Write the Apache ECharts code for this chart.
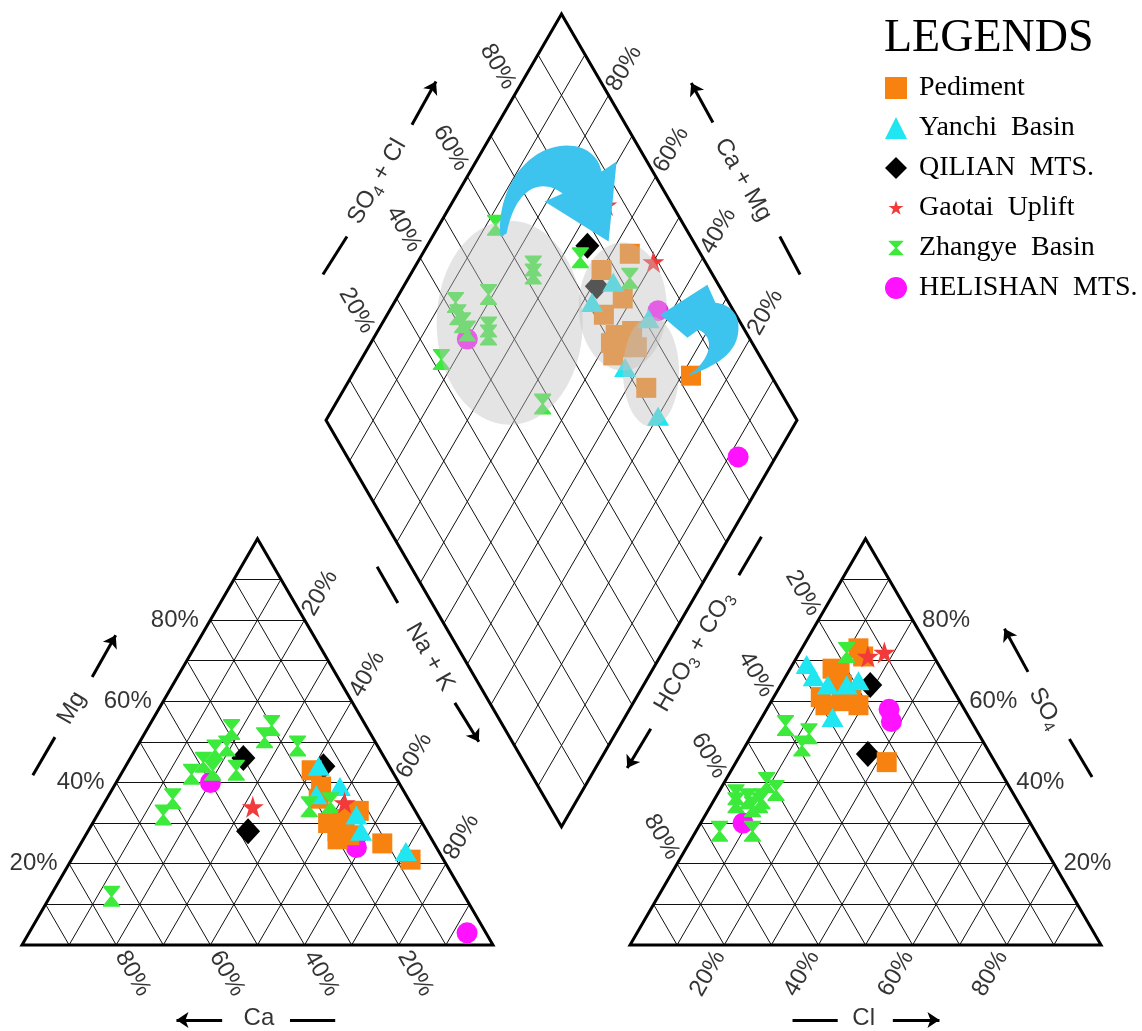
<!DOCTYPE html>
<html>
<head>
<meta charset="utf-8">
<script src="https://cdn.jsdelivr.net/npm/echarts@6/dist/echarts.min.js"></script>
<style>
  html, body { margin: 0; padding: 0; background: #ffffff; }
  #chart { width: 1142px; height: 1031px; }
</style>
</head>
<body>
<div id="chart"></div>
<script>
// ---- Sample compositions (meq %) ----
// Cation triangle: [Ca, Mg, Na+K]
const cationsPediment = [[17,43,40],[17,39,44],[19,36,45],[13,33,54],[16,31,53],[19,28,53],[20,26,54],[17,27,56],[11,25,64],[7,21,72],[12,33,55],[20,30,50]];
const cationsYanchi   = [[15,44,41],[13,39,48],[19,37,44],[13,32,55],[14,28,58],[7,23,70]];
const cationsQilian   = [[30,46,24],[14,44,42],[38,28,34]];
const cationsGaotai   = [[34,34,32],[14,35,51]];
const cationsZhangye  = [[20,54,26],[23,51,26],[17,49,34],[29,53,18],[32,49,19],[35,48,17],[39,45,16],[43,42,15],[38,43,19],[33,43,24],[50,36,14],[54,32,14],[22,34,44],[17,35,48],[75,12,13]];
const cationsHelishan = [[40,40,20],[17,24,59],[4,3,93]];

// Anion triangle: [HCO3+CO3, SO4, Cl]
const anionsPediment = [[15,73,12],[15,71,14],[22,67,11],[23,64,13],[29,61,10],[29,59,12],[25,60,15],[22,59,19],[22,62,16],[23,45,32],[23,68,9]];
const anionsYanchi   = [[28,69,3],[28,66,6],[26,64,10],[22,64,14],[19,65,16],[29,56,15]];
const anionsQilian   = [[17,64,19],[26,47,27]];
const anionsGaotai   = [[14,71,15],[10,72,18]];
const anionsZhangye  = [[18,72,10],[40,54,6],[36,52,12],[39,49,12],[51,40,9],[50,38,12],[59,37,4],[57,36,7],[55,35,10],[60,35,5],[57,34,9],[60,28,12],[67,28,5],[54,36,10]];
const anionsHelishan = [[16,58,26],[17,55,28],[61,30,9]];

// Central diamond: [Ca+Mg, SO4+Cl]
const diamondPediment = [[56,85],[60,77],[52,78],[54,72],[49,72],[46,72],[43,75],[47,69],[36,72],[28,83],[49,70],[46,76]];
const diamondYanchi   = [[56,78],[58,71],[44,81],[43,70],[30,71]];
const diamondQilian   = [[66,77],[59,74]];
const diamondGaotai   = [[67,86],[50,89]];
const diamondZhangye  = [[88,60],[66,74],[53,82],[74,62],[75,63],[81,50],[87,42],[85,41],[83,41],[81,41],[76,45],[77,46],[83,32],[56,48]];
const diamondHelishan = [[80,40],[43,84],[8,83]];

// Tick values and their labels
const tickValues = [20, 40, 60, 80];
const tickLabels = ['20%', '40%', '60%', '80%'];

// ---- Piper geometry (side of each triangle = 100 units) ----
const S = Math.sqrt(3) / 2;
const GAP = 29.1;                 // spacing between the two triangles
const RX0 = 100 + GAP;            // left corner of anion triangle
const BX = 100 + GAP / 2, BY = GAP * S;   // lower corner of diamond
const PXU = 4.7;                  // approx. pixels per unit
const UR = [0.5, S], UL = [-0.5, S], DR = [0.5, -S], DL = [-0.5, -S];

const cat = (ca, mg, nk) => [nk + mg / 2, mg * S];
const an  = (hc, so, cl) => [RX0 + cl + so / 2, so * S];
const dia = (cm, sc) => [BX + (sc - cm) / 2, BY + (sc + cm) * S];
const along = (p, dir, d) => [p[0] + dir[0] * d / PXU, p[1] + dir[1] * d / PXU];

// ---- Marker groups ----
const STAR = 'path://M50,0 L61.2,34.5 L97.6,34.5 L68.2,55.9 L79.4,90.5 L50,69.1 L20.6,90.5 L31.8,55.9 L2.4,34.5 L38.8,34.5 Z';
const HOURGLASS = 'path://M0,0 L100,0 L100,6 L56,50 L100,94 L100,100 L0,100 L0,94 L44,50 L0,6 Z';
const STAR_ICON = 'path://M-20,-20 M120,115 M50,0 L61.2,34.5 L97.6,34.5 L68.2,55.9 L79.4,90.5 L50,69.1 L20.6,90.5 L31.8,55.9 L2.4,34.5 L38.8,34.5 Z';
const HOURGLASS_ICON = 'path://M-25,-15 M125,115 M0,0 L100,0 L100,6 L56,50 L100,94 L100,100 L0,100 L0,94 L44,50 L0,6 Z';

const groups = [
  { name: 'Pediment',       color: '#F7820F', symbol: 'rect',     size: 20,       icon: 'rect',         cat: cationsPediment, an: anionsPediment, dia: diamondPediment },
  { name: 'Yanchi  Basin',  color: '#1FE6F0', symbol: 'triangle', size: [22, 19], icon: 'triangle',     cat: cationsYanchi,   an: anionsYanchi,   dia: diamondYanchi },
  { name: 'QILIAN  MTS.',   color: '#000000', symbol: 'diamond',  size: [24, 26], icon: 'diamond',      cat: cationsQilian,   an: anionsQilian,   dia: diamondQilian },
  { name: 'Gaotai  Uplift', color: '#F23A3A', symbol: STAR,       size: 22,       icon: STAR_ICON,      cat: cationsGaotai,   an: anionsGaotai,   dia: diamondGaotai },
  { name: 'Zhangye  Basin', color: '#3CEA3C', symbol: HOURGLASS,  size: [17, 21], icon: HOURGLASS_ICON, cat: cationsZhangye,  an: anionsZhangye,  dia: diamondZhangye },
  { name: 'HELISHAN  MTS.', color: '#FF12FF', symbol: 'circle',   size: 21,       icon: 'circle',       cat: cationsHelishan, an: anionsHelishan, dia: diamondHelishan }
];
// drawing order (later = on top)
const drawOrder = ['HELISHAN  MTS.', 'QILIAN  MTS.', 'Pediment', 'Yanchi  Basin', 'Zhangye  Basin', 'Gaotai  Uplift'];

// ---- Grid lines and outlines ----
const gridSegs = [];
for (let k = 10; k < 100; k += 10) {
  gridSegs.push([cat(100 - k, k, 0), cat(0, k, 100 - k)]);
  gridSegs.push([cat(100 - k, 0, k), cat(0, 100 - k, k)]);
  gridSegs.push([cat(k, 0, 100 - k), cat(k, 100 - k, 0)]);
  gridSegs.push([an(100 - k, k, 0), an(0, k, 100 - k)]);
  gridSegs.push([an(100 - k, 0, k), an(0, 100 - k, k)]);
  gridSegs.push([an(k, 0, 100 - k), an(k, 100 - k, 0)]);
  gridSegs.push([dia(k, 0), dia(k, 100)]);
  gridSegs.push([dia(0, k), dia(100, k)]);
}
const outlines = [
  [cat(100, 0, 0), cat(0, 0, 100), cat(0, 100, 0), cat(100, 0, 0), cat(0, 0, 100)],
  [an(100, 0, 0), an(0, 0, 100), an(0, 100, 0), an(100, 0, 0), an(0, 0, 100)],
  [dia(0, 0), dia(100, 0), dia(100, 100), dia(0, 100), dia(0, 0), dia(100, 0)]
];

// ---- Tick labels ----
function lab(p, text, rotate, position, distance) {
  return { value: p, label: { formatter: text, rotate: rotate, position: position || 'inside', distance: distance || 0 } };
}
const tickItems = [];
tickValues.forEach((v, i) => {
  const t = tickLabels[i];
  tickItems.push(lab(cat(100 - v, v, 0), t, 0, 'left', 11));            // Mg
  tickItems.push(lab(along(cat(0, 100 - v, v), UR, 31), t, 60));        // Na+K
  tickItems.push(lab(along(cat(v, 0, 100 - v), DR, 33), t, -60));       // Ca
  tickItems.push(lab(an(0, v, 100 - v), t, 0, 'right', 9));             // SO4
  tickItems.push(lab(along(an(v, 100 - v, 0), UL, 31), t, -60));        // HCO3+CO3
  tickItems.push(lab(along(an(100 - v, 0, v), DL, 33), t, 60));         // Cl
  tickItems.push(lab(along(dia(100, v), UL, 33), t, -60));              // SO4+Cl
  tickItems.push(lab(along(dia(v, 100), UR, 31), t, 60));               // Ca+Mg
});

// ---- Axis titles with their dash and arrow strokes ----
const axisTitles = [
  { at: [10.6, 50.5],   text: '{n|Mg}', rotate: 60 },
  { at: [86.6, 61.4],   text: '{n|Na + K}', rotate: -60 },
  { at: [50.3, -15.6],  text: '{n|Ca}', rotate: 0 },
  { at: [75.4, 162.7],  text: '{n|SO}{s|4}{n| + Cl}', rotate: 60 },
  { at: [153.1, 163.1], text: '{n|Ca + Mg}', rotate: -60 },
  { at: [142.7, 62.5],  text: '{n|HCO}{s|3}{n| + CO}{s|3}', rotate: 60 },
  { at: [217.3, 50.4],  text: '{n|SO}{s|4}', rotate: -60 },
  { at: [178.7, -15.6], text: '{n|Cl}', rotate: 0 }
];
const axisDashes = [
  [[2.3, 36.2], [7.0, 44.3]],
  [[75.4, 80.6], [79.8, 72.9]],
  [[56.9, -16.0], [66.5, -16.0]],
  [[63.9, 142.9], [69.0, 151.0]],
  [[160.9, 151.0], [165.2, 142.9]],
  [[152.2, 78.8], [157.0, 87.0]],
  [[222.4, 43.9], [227.2, 35.8]],
  [[163.6, -16.0], [173.2, -16.0]]
];
const axisArrows = [
  [[14.9, 57.1], [19.9, 66.0]],
  [[91.9, 51.6], [97.0, 43.3]],
  [[42.5, -16.0], [32.8, -16.0]],
  [[82.8, 174.8], [87.9, 184.0]],
  [[146.7, 175.3], [142.1, 183.7]],
  [[133.5, 46.1], [128.5, 37.7]],
  [[213.6, 58.2], [208.6, 67.4]],
  [[184.9, -16.0], [194.8, -16.0]]
];

// ---- Grouping ellipses and flow arrows over the diamond ----
const groupEllipses = [
  { center: dia(73, 51), rx: 73, ry: 102 },
  { center: dia(51, 77), rx: 44, ry: 64 },
  { center: dia(37, 75), rx: 28, ry: 55 }
];
const flowArrowTips = [dia(62, 82), dia(42, 84)];
const flowArrowPaths = [
  'M-108,-5 C-112,-48 -85,-95 -42,-96 C-22,-96 -10,-85 -7,-70 L8,-80 L0,0 L-64,-40 L-46,-48 C-65,-63 -92,-58 -102,-8 Z',
  'M26,62 C52,52 80,40 78,10 C77,-4 66,-11 55,-12 L47,-30 L0,0 L27,23 L38,15 C55,22 52,45 26,62 Z'
];

const FONT = "'Liberation Sans', Arial, sans-serif";
const SERIF = "'Liberation Serif', 'Times New Roman', serif";

const series = [];
series.push({
  type: 'lines', coordinateSystem: 'cartesian2d', silent: true, animation: false, clip: false, z: 1,
  lineStyle: { color: '#111', width: 1, opacity: 1 },
  data: gridSegs.map(c => ({ coords: c }))
});
series.push({
  type: 'lines', coordinateSystem: 'cartesian2d', polyline: true, silent: true, animation: false, clip: false, z: 2,
  lineStyle: { color: '#000', width: 3, opacity: 1, join: 'miter' },
  data: outlines.map(c => ({ coords: c }))
});
series.push({
  type: 'lines', coordinateSystem: 'cartesian2d', silent: true, animation: false, clip: false, z: 2,
  lineStyle: { color: '#000', width: 3, opacity: 1 },
  data: axisDashes.map(c => ({ coords: c }))
});
series.push({
  type: 'lines', coordinateSystem: 'cartesian2d', silent: true, animation: false, clip: false, z: 2,
  symbol: ['none', 'arrow'], symbolSize: 12,
  lineStyle: { color: '#000', width: 3, opacity: 1 },
  data: axisArrows.map(c => ({ coords: c }))
});
series.push({
  type: 'scatter', silent: true, animation: false, clip: false, z: 2,
  symbolSize: 1, itemStyle: { color: 'transparent' },
  label: { show: true, color: '#000', fontSize: 24, fontFamily: FONT },
  data: tickItems
});
series.push({
  type: 'scatter', silent: true, animation: false, clip: false, z: 2,
  symbolSize: 1, itemStyle: { color: 'transparent' },
  label: {
    show: true, position: 'inside',
    rich: {
      n: { fontSize: 24, fontFamily: FONT, color: '#000', lineHeight: 30 },
      s: { fontSize: 16, fontFamily: FONT, color: '#000', lineHeight: 16, verticalAlign: 'bottom' }
    }
  },
  data: axisTitles.map(t => ({ value: t.at, label: { formatter: t.text, rotate: t.rotate } }))
});

drawOrder.forEach((nm, idx) => {
  const g = groups.find(x => x.name === nm);
  const common = {
    type: 'scatter', name: g.name, symbol: g.symbol, symbolSize: g.size,
    itemStyle: { color: g.color, opacity: 1 }, clip: false, animation: false, silent: true, z: 3 + idx
  };
  series.push(Object.assign({}, common, { data: g.cat.map(v => cat(v[0], v[1], v[2])) }));
  series.push(Object.assign({}, common, { data: g.an.map(v => an(v[0], v[1], v[2])) }));
  series.push(Object.assign({}, common, { data: g.dia.map(v => dia(v[0], v[1])) }));
});

// translucent grouping ellipses (drawn above the markers)
series.push({
  type: 'custom', coordinateSystem: 'cartesian2d', silent: true, animation: false, clip: false, z: 50,
  data: groupEllipses.map((e, i) => [e.center[0], e.center[1], i]),
  renderItem: (params, api) => {
    const e = groupEllipses[api.value(2)];
    const c = api.coord([api.value(0), api.value(1)]);
    return {
      type: 'ellipse',
      shape: { cx: c[0], cy: c[1], rx: e.rx, ry: e.ry },
      style: { fill: 'rgba(193,193,193,0.44)' }
    };
  }
});
// curved flow arrows
series.push({
  type: 'custom', coordinateSystem: 'cartesian2d', silent: true, animation: false, clip: false, z: 60,
  data: flowArrowTips.map((p, i) => [p[0], p[1], i]),
  renderItem: (params, api) => {
    const c = api.coord([api.value(0), api.value(1)]);
    return {
      type: 'path', x: c[0], y: c[1],
      shape: { pathData: flowArrowPaths[api.value(2)] },
      style: { fill: '#3DC4EE' }
    };
  }
});

const chart = echarts.init(document.getElementById('chart'), null, { renderer: 'canvas' });
chart.setOption({
  backgroundColor: '#ffffff',
  animation: false,
  title: {
    text: 'LEGENDS', left: 884, top: 16, padding: 0,
    textStyle: { fontFamily: SERIF, fontSize: 46, fontWeight: 'normal', color: '#000' }
  },
  legend: {
    orient: 'vertical', left: 885, top: 74, padding: 0,
    itemWidth: 22, itemHeight: 22, itemGap: 12, selectedMode: false,
    textStyle: { fontFamily: SERIF, fontSize: 28, color: '#000', lineHeight: 27, padding: [0, 0, 0, 7] },
    data: groups.map(g => ({ name: g.name, icon: g.icon }))
  },
  grid: { left: 22, top: 14, width: 1079, height: 931 },
  xAxis: { type: 'value', min: 0, max: 2 * 100 + GAP, show: false },
  yAxis: { type: 'value', min: 0, max: BY + 200 * S, show: false },
  series: series
});
</script>
</body>
</html>
